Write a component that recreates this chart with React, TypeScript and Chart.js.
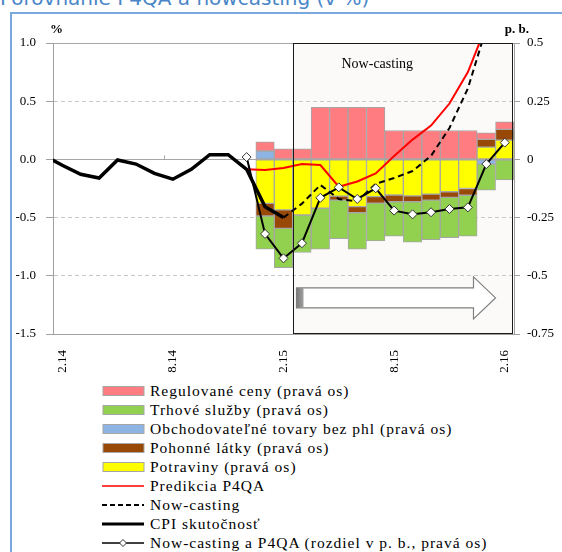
import React, { useEffect, useRef } from 'react';
import { Chart, registerables } from 'chart.js';

Chart.register(...registerables);

// Categories (months). '1.14' lies just left of the visible range (x.min = '2.14'),
// so the actual-CPI line enters the plot from the left edge as in the reference.
const categories = [
  '1.14', '2.14', '3.14', '4.14', '5.14', '6.14', '7.14', '8.14', '9.14', '10.14', '11.14', '12.14',
  '1.15', '2.15', '3.15', '4.15', '5.15', '6.15', '7.15', '8.15', '9.15', '10.15', '11.15', '12.15',
  '1.16', '2.16',
];
const shownTicks = ['2.14', '8.14', '2.15', '8.15', '2.16'];
const nowcastStart = '3.15';

const leftTicks = { min: -1.5, max: 1.0, step: 0.5 };
const rightTicks = { min: -0.75, max: 0.5, step: 0.25 };

// Left axis (%)
const cpiActual = [0.035, -0.05, -0.128, -0.16, -0.005, -0.04, -0.12, -0.17, -0.085, 0.04, 0.04, -0.085,
  -0.406, -0.5, null, null, null, null, null, null, null, null, null, null, null, null];
const predikcia = [null, null, null, null, null, null, null, null, null, null, null, -0.085,
  -0.09, -0.074, -0.04, -0.048, -0.235, -0.19, -0.12, 0.03, 0.17, 0.29, 0.48, 0.75, 1.15, 1.6];
const nowcasting = [null, null, null, null, null, null, null, null, null, null, null, null,
  null, -0.5, -0.38, -0.22, -0.34, -0.36, -0.21, -0.16, -0.1, 0.03, 0.27, 0.61, 1.13, 1.7];

// Right axis (p. b.)
const rozdiel = [null, null, null, null, null, null, null, null, null, null, null, 0.01,
  -0.32, -0.425, -0.36, -0.165, -0.12, -0.17, -0.124, -0.22, -0.236, -0.227, -0.213, -0.206, -0.02, 0.072];
const pad = [null, null, null, null, null, null, null, null, null, null, null, null];
const potraviny = [...pad, -0.189, -0.217, -0.239, -0.21, -0.158, -0.203, -0.16, -0.153, -0.157, -0.149, -0.139, -0.125, 0.053, 0.083];
const obchodovatelne = [...pad, 0.036, null, null, null, null, null, null, null, null, null, null, null, -0.02, null];
const pohonne = [...pad, -0.054, -0.079, null, null, -0.017, -0.026, -0.028, -0.029, -0.025, -0.026, -0.024, -0.029, 0.033, 0.046];
const trhove = [...pad, -0.143, -0.169, -0.161, -0.176, -0.165, -0.157, -0.162, -0.148, -0.174, -0.17, -0.173, -0.176, -0.112, -0.088];
const regulovane = [...pad, 0.04, 0.045, 0.045, 0.224, 0.224, 0.224, 0.224, 0.124, 0.124, 0.124, 0.124, 0.124, 0.028, 0.032];

const PINK = '#ff7c80';
const GREEN = '#92d050';
const BLUE = '#8db4e2';
const BROWN = '#984807';
const YELLOW = '#ffff00';
const RED = '#ff0000';
const BAR_BORDER = '#a6a6a6';
const SERIF = "'Liberation Serif', 'Times New Roman', serif";

const legendItems = [
  { label: 'Regulované ceny (pravá os)', kind: 'box', color: PINK },
  { label: 'Trhové služby (pravá os)', kind: 'box', color: GREEN },
  { label: 'Obchodovateľné tovary bez phl (pravá os)', kind: 'box', color: BLUE },
  { label: 'Pohonné látky (pravá os)', kind: 'box', color: BROWN },
  { label: 'Potraviny (pravá os)', kind: 'box', color: YELLOW },
  { label: 'Predikcia P4QA', kind: 'line', color: RED },
  { label: 'Now-casting', kind: 'dash', color: '#000' },
  { label: 'CPI skutočnosť', kind: 'thick', color: '#000' },
  { label: 'Now-casting a P4QA (rozdiel v p. b., pravá os)', kind: 'marker', color: '#000' },
];

const nowcastPlugin = {
  id: 'nowcastBox',
  beforeDraw(chart: any) {
    const { ctx, chartArea, scales } = chart;
    const x = scales.x;
    const k = categories.indexOf(nowcastStart);
    const left = (x.getPixelForValue(k) + x.getPixelForValue(k - 1)) / 2;
    ctx.save();
    ctx.fillStyle = '#fbfaf9';
    ctx.fillRect(left, chartArea.top, chartArea.right - 1 - left, chartArea.bottom - chartArea.top);
    ctx.restore();
  },
  beforeDatasetsDraw(chart: any) {
    const { ctx, scales } = chart;
    const x = scales.x;
    const y0 = scales.y1.getPixelForValue(0);
    ctx.save();
    ctx.strokeStyle = '#a6a6a6';
    ctx.lineWidth = 1;
    shownTicks.forEach((t) => {
      const k = categories.indexOf(t);
      const px = Math.round((x.getPixelForValue(k) + x.getPixelForValue(k - 1)) / 2) + 0.5;
      ctx.beginPath();
      ctx.moveTo(px, y0 - 4);
      ctx.lineTo(px, y0);
      ctx.stroke();
    });
    ctx.restore();
  },
  afterDatasetsDraw(chart: any) {
    const { ctx, chartArea, scales } = chart;
    const x = scales.x;
    const k = categories.indexOf(nowcastStart);
    const left = Math.round((x.getPixelForValue(k) + x.getPixelForValue(k - 1)) / 2) + 0.5;
    const right = Math.round(chartArea.right - 1) - 0.5;
    ctx.save();
    ctx.strokeStyle = '#1a1a1a';
    ctx.lineWidth = 1;
    ctx.strokeRect(left, chartArea.top + 0.5, right - left, chartArea.bottom - chartArea.top - 1);
    // label
    ctx.fillStyle = '#000';
    ctx.font = `14px ${SERIF}`;
    ctx.textAlign = 'left';
    ctx.textBaseline = 'middle';
    ctx.fillText('Now-casting', left + 48, chartArea.top + 21);
    // arrow
    const yc = scales.y.getPixelForValue(-1.19);
    const ax0 = left + 3;
    const ax1 = left + 202;
    const hx = left + 180;
    const bh = 10;
    const hh = 21;
    ctx.beginPath();
    ctx.moveTo(ax0, yc - bh);
    ctx.lineTo(hx, yc - bh);
    ctx.lineTo(hx, yc - hh);
    ctx.lineTo(ax1, yc);
    ctx.lineTo(hx, yc + hh);
    ctx.lineTo(hx, yc + bh);
    ctx.lineTo(ax0, yc + bh);
    ctx.closePath();
    ctx.fillStyle = '#ffffff';
    ctx.fill();
    ctx.strokeStyle = '#808080';
    ctx.lineWidth = 1.2;
    ctx.stroke();
    const g = ctx.createLinearGradient(ax0, 0, ax0 + 7, 0);
    g.addColorStop(0, '#7a7a7a');
    g.addColorStop(1, '#a0a0a0');
    ctx.fillStyle = g;
    ctx.fillRect(ax0, yc - bh, 7, bh * 2);
    // axis titles
    ctx.fillStyle = '#000';
    ctx.font = `bold 13px ${SERIF}`;
    ctx.textBaseline = 'alphabetic';
    ctx.textAlign = 'left';
    ctx.fillText('%', chartArea.left - 3, chartArea.top - 10);
    ctx.textAlign = 'right';
    ctx.fillText('p. b.', chartArea.right + 15, chartArea.top - 10);
    ctx.restore();
  },
};

function LegendSymbol({ kind, color }: { kind: string; color: string }) {
  return (
    <svg width={44} height={14} style={{ display: 'block' }}>
      {kind === 'box' && (
        <rect x={1} y={2.5} width={41} height={9} fill={color} stroke={BAR_BORDER} strokeWidth={1} />
      )}
      {kind === 'line' && <line x1={0} y1={7} x2={42} y2={7} stroke={color} strokeWidth={1.6} />}
      {kind === 'dash' && (
        <line x1={0} y1={7} x2={42} y2={7} stroke={color} strokeWidth={1.8} strokeDasharray="5 3" />
      )}
      {kind === 'thick' && <line x1={0} y1={7} x2={42} y2={7} stroke={color} strokeWidth={3} />}
      {kind === 'marker' && (
        <g>
          <line x1={0} y1={7} x2={42} y2={7} stroke={color} strokeWidth={1.5} />
          <polygon points="21,3.5 24.5,7 21,10.5 17.5,7" fill="#fff" stroke="#333" strokeWidth={1} />
        </g>
      )}
    </svg>
  );
}

export default function App() {
  const canvasRef = useRef<HTMLCanvasElement>(null);

  useEffect(() => {
    if (!canvasRef.current) return;
    const barCommon = {
      type: 'bar' as const,
      yAxisID: 'y1',
      stack: 'bars',
      borderColor: BAR_BORDER,
      borderWidth: 1,
      borderSkipped: false,
      barPercentage: 1,
      categoryPercentage: 1,
      order: 2,
    };
    const chart = new Chart(canvasRef.current, {
      data: {
        labels: categories,
        datasets: [
          {
            type: 'line',
            label: 'Now-casting a P4QA (rozdiel v p. b., pravá os)',
            data: rozdiel,
            yAxisID: 'y1',
            borderColor: '#000',
            borderWidth: 2,
            pointStyle: 'rectRot',
            pointRadius: 4.5,
            pointBackgroundColor: '#fff',
            pointBorderColor: '#333',
            pointBorderWidth: 1,
            tension: 0,
            order: 0,
          },
          {
            type: 'line',
            label: 'CPI skutočnosť',
            data: cpiActual,
            yAxisID: 'y',
            borderColor: '#000',
            borderWidth: 3.5,
            pointRadius: 0,
            tension: 0,
            order: 1,
          },
          {
            type: 'line',
            label: 'Now-casting',
            data: nowcasting,
            yAxisID: 'y',
            borderColor: '#000',
            borderWidth: 2,
            borderDash: [6, 4],
            pointRadius: 0,
            tension: 0,
            order: 1,
          },
          {
            type: 'line',
            label: 'Predikcia P4QA',
            data: predikcia,
            yAxisID: 'y',
            borderColor: RED,
            borderWidth: 2,
            pointRadius: 0,
            tension: 0,
            order: 1,
          },
          { ...barCommon, label: 'Potraviny (pravá os)', data: potraviny, backgroundColor: YELLOW },
          { ...barCommon, label: 'Obchodovateľné tovary bez phl (pravá os)', data: obchodovatelne, backgroundColor: BLUE },
          { ...barCommon, label: 'Pohonné látky (pravá os)', data: pohonne, backgroundColor: BROWN },
          { ...barCommon, label: 'Trhové služby (pravá os)', data: trhove, backgroundColor: GREEN },
          { ...barCommon, label: 'Regulované ceny (pravá os)', data: regulovane, backgroundColor: PINK },
        ] as any,
      },
      options: {
        responsive: false,
        animation: false,
        layout: { padding: { top: 43, left: 0, right: 0, bottom: 0 } },
        plugins: { legend: { display: false }, tooltip: { enabled: false }, title: { display: false } },
        scales: {
          x: {
            type: 'category',
            min: '2.14',
            stacked: true,
            offset: true,
            grid: { display: false },
            border: { display: true, color: '#a0a0a0', width: 1 },
            ticks: {
              autoSkip: false,
              maxRotation: 90,
              minRotation: 90,
              padding: 8,
              color: '#000',
              font: { family: SERIF, size: 13 },
              callback: function (this: any, value: any) {
                const l = this.getLabelForValue(value);
                return shownTicks.includes(l) ? l : '';
              },
            },
            afterFit: (s: any) => {
              s.height = 46;
              s.paddingLeft = 0;
              s.paddingRight = 0;
            },
          },
          y: {
            position: 'left',
            min: leftTicks.min,
            max: leftTicks.max,
            grid: {
              color: (c: any) => {
                const v = c.tick && c.tick.value;
                if (v === undefined) return 'rgba(0,0,0,0)';
                return v === 0 || v === leftTicks.max || v === leftTicks.min ? 'rgba(0,0,0,0)' : '#c8c8c8';
              },
              tickColor: '#a0a0a0',
              tickLength: 7,
              lineWidth: 1,
            },
            border: { display: true, color: '#a0a0a0', width: 1, dash: [4, 3] },
            ticks: {
              stepSize: leftTicks.step,
              padding: 10,
              color: '#000',
              font: { family: SERIF, size: 13 },
              callback: (v: any) => Number(v).toFixed(1),
            },
            afterFit: (s: any) => {
              s.width = 53;
              s.paddingTop = 0;
              s.paddingBottom = 0;
            },
          },
          y1: {
            position: 'right',
            min: rightTicks.min,
            max: rightTicks.max,
            stacked: true,
            grid: {
              color: (c: any) => {
                const v = c.tick && c.tick.value;
                return v === 0 || v === rightTicks.max ? '#a6a6a6' : 'rgba(0,0,0,0)';
              },
              tickColor: '#a0a0a0',
              tickLength: 6,
              lineWidth: 1,
            },
            border: { display: true, color: '#a0a0a0', width: 1 },
            ticks: {
              stepSize: rightTicks.step,
              padding: 7,
              color: '#000',
              font: { family: SERIF, size: 13 },
              callback: (v: any) => String(Number(v)),
            },
            afterFit: (s: any) => {
              s.width = 48;
              s.paddingTop = 0;
              s.paddingBottom = 0;
            },
          },
        },
      } as any,
      plugins: [nowcastPlugin],
    });
    return () => chart.destroy();
  }, []);

  return (
    <div style={{ position: 'fixed', left: 0, top: 0, width: 562, height: 552, background: '#fff', overflow: 'hidden' }}>
      <div
        style={{
          position: 'absolute',
          left: 0,
          top: -12,
          fontFamily: "'DejaVu Sans', sans-serif",
          fontSize: 20,
          lineHeight: '20px',
          color: '#4a86c8',
          whiteSpace: 'nowrap',
        }}
      >
        Porovnanie P4QA a nowcasting (v %)
      </div>
      <div
        style={{
          position: 'absolute',
          left: 10,
          top: 12,
          width: 600,
          height: 600,
          borderLeft: '2px solid #7aa7dc',
          borderTop: '2px solid #7aa7dc',
        }}
      />
      <canvas ref={canvasRef} width={562} height={380} style={{ position: 'absolute', left: 0, top: 0 }} />
      <div style={{ position: 'absolute', left: 102, top: 381 }}>
        {legendItems.map((it) => (
          <div key={it.label} style={{ display: 'flex', alignItems: 'center', height: 19 }}>
            <LegendSymbol kind={it.kind} color={it.color} />
            <span
              style={{
                marginLeft: 4,
                fontFamily: SERIF,
                fontSize: 15.5,
                letterSpacing: '1px',
                color: '#000',
                whiteSpace: 'nowrap',
              }}
            >
              {it.label}
            </span>
          </div>
        ))}
      </div>
    </div>
  );
}
